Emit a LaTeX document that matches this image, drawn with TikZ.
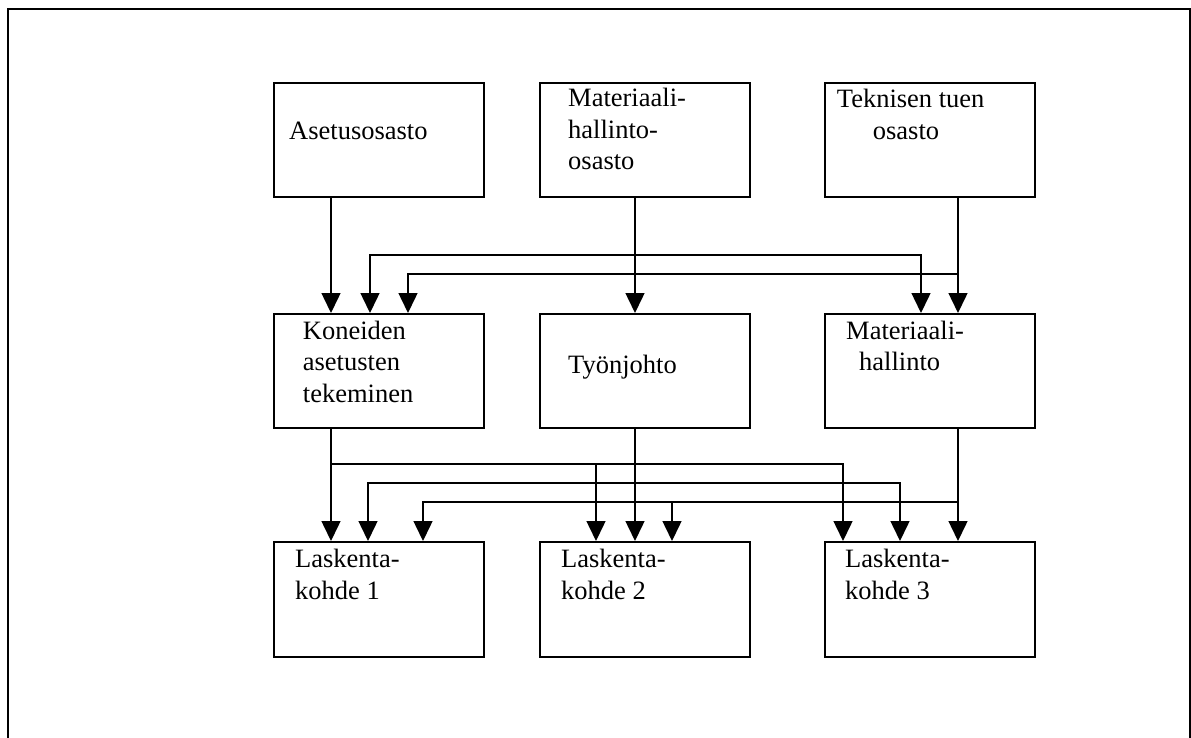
\documentclass[tikz,border=0pt]{standalone}
\usepackage{fontspec}
\setmainfont{Liberation Serif}
\usetikzlibrary{arrows.meta}
\begin{document}
\begin{tikzpicture}[x=1pt,y=-1pt,
  >={Triangle[width=19pt,length=20pt]},
  box/.style={draw, rectangle, line width=2pt, inner sep=0pt,
    minimum width=210pt, anchor=north west},
  txt/.style={inner sep=0pt, anchor=base west,
    font=\fontsize{26.5}{31.5}\selectfont},
  conn/.style={line width=1.5pt}]
\useasboundingbox (0,0) rectangle (1191,738);

% page frame, open at the bottom
\draw[line width=2pt] (8,738) -- (8,9) -- (1189.5,9) -- (1189.5,738);

% departments
\node[box, minimum height=114pt] (as) at (273,82) {};
\node[box, minimum height=114pt] (mo) at (539,82) {};
\node[box, minimum height=114pt] (tk) at (824,82) {};
% functions
\node[box, minimum height=114pt] (ko) at (273,313) {};
\node[box, minimum height=114pt] (ty) at (539,313) {};
\node[box, minimum height=114pt] (mh) at (824,313) {};
% cost objects
\node[box, minimum height=115pt] (l1) at (273,541) {};
\node[box, minimum height=115pt] (l2) at (539,541) {};
\node[box, minimum height=115pt] (l3) at (824,541) {};

% labels
\node[txt] (as-t) at (289,140) {Asetusosasto};
\node[txt] (mo-t) at (568,106.7) {\vtop{\hbox{Materiaali-}\hbox{hallinto-}\hbox{osasto}}};
\node[txt] (tk-t) at (836.7,108) {\vtop{\hbox{Teknisen tuen}\hbox{\kern36pt osasto}}};
\node[txt] (ko-t) at (302.7,339) {\vtop{\hbox{Koneiden}\hbox{asetusten}\hbox{tekeminen}}};
\node[txt] (ty-t) at (568,373) {Työnjohto};
\node[txt] (mh-t) at (846,339) {\vtop{\hbox{Materiaali-}\hbox{\kern13pt hallinto}}};
\node[txt] (l1-t) at (295,567.5) {\vtop{\hbox{Laskenta-}\hbox{kohde 1}}};
\node[txt] (l2-t) at (561,567.5) {\vtop{\hbox{Laskenta-}\hbox{kohde 2}}};
\node[txt] (l3-t) at (845,567.5) {\vtop{\hbox{Laskenta-}\hbox{kohde 3}}};

% vertical trunk lines
\coordinate (xa) at (331,0);
\coordinate (xm) at (635,0);
\coordinate (xt) at (958,0);

% departments -> functions
\coordinate (h1l) at (370,255);
\coordinate (h1r) at (921,255);
\coordinate (h2l) at (408,274);
\coordinate (h2r) at (958,274);
\draw[conn,->] (as.south -| xa) -- (ko.north -| xa);
\draw[conn,->] (mo.south -| xm) -- (ty.north -| xm);
\draw[conn,->] (tk.south -| xt) -- (mh.north -| xt);
\draw[conn,<->] (h1l |- ko.north) -- (h1l) -- (h1r) -- (h1r |- mh.north);
\draw[conn,->] (h2r) -- (h2l) -- (h2l |- ko.north);

% functions -> cost objects
\coordinate (g1) at (331,464);
\coordinate (g1m) at (596,464);
\coordinate (g1r) at (843,464);
\coordinate (g2l) at (368,483);
\coordinate (g2r) at (900,483);
\coordinate (g3l) at (423,502);
\coordinate (g3m) at (672,502);
\coordinate (g3r) at (958,502);
\draw[conn,->] (ko.south -| xa) -- (xa |- l1.north);
\draw[conn,->] (g1) -- (g1r) -- (g1r |- l3.north);
\draw[conn,->] (g1m) -- (g1m |- l2.north);
\draw[conn,->] (ty.south -| xm) -- (xm |- l2.north);
\draw[conn,<->] (g2l |- l1.north) -- (g2l) -- (g2r) -- (g2r |- l3.north);
\draw[conn,->] (mh.south -| xt) -- (xt |- l3.north);
\draw[conn,->] (g3r) -- (g3l) -- (g3l |- l1.north);
\draw[conn,->] (g3m) -- (g3m |- l2.north);
\end{tikzpicture}
\end{document}
